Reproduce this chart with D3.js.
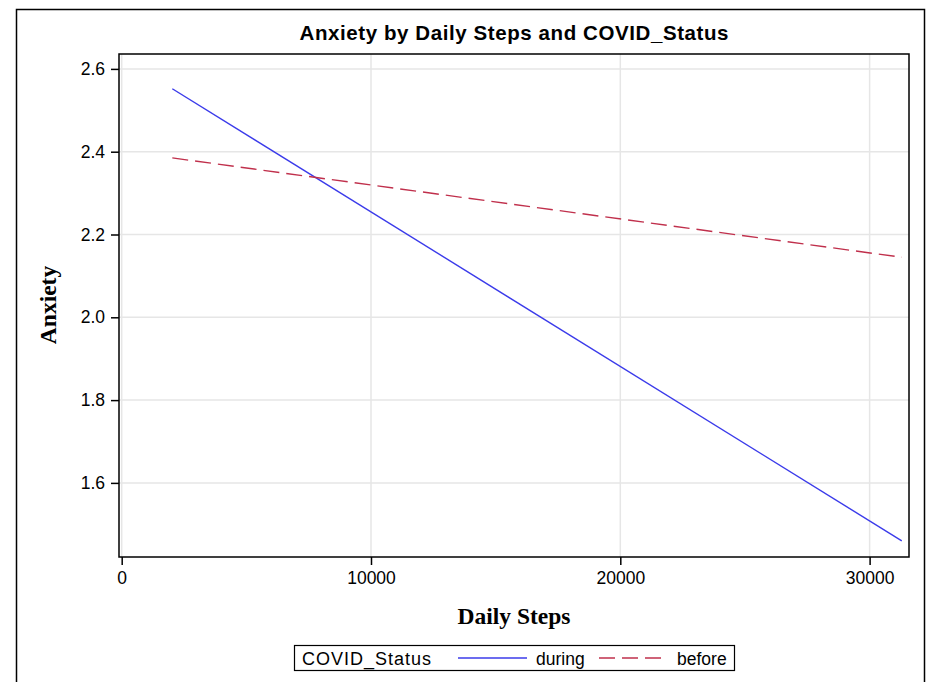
<!DOCTYPE html>
<html>
<head>
<meta charset="utf-8">
<script src="https://cdn.jsdelivr.net/npm/d3@7"></script>
<style>
  body { margin: 0; background: #fff; }
  svg { display: block; }
</style>
</head>
<body>
<svg id="chart" width="930" height="682"></svg>
<script>
// data (fitted lines, end points)
const steps_during = [2030, 31290];
const anxiety_during = [2.552, 1.460];
const steps_before = [2030, 31290];
const anxiety_before = [2.385, 2.145];

const x_ticks = [0, 10000, 20000, 30000];
const y_ticks = [1.6, 1.8, 2.0, 2.2, 2.4, 2.6];
const x_domain = [-108, 31580];
const y_domain = [1.421, 2.636];

const series_names = ["during", "before"];

const svg = d3.select("#chart");
const width = 930;
const height = 682;
const margin = { top: 54, right: 21, bottom: 125, left: 119 };

const sans = "'Liberation Sans', Arial, sans-serif";
const serif = "'Liberation Serif', 'Times New Roman', serif";

// outer frame
svg.append("rect")
    .attr("x", 16.5)
    .attr("y", 9.5)
    .attr("width", 908)
    .attr("height", 700)
    .attr("fill", "none")
    .attr("stroke", "#000")
    .attr("stroke-width", 1.5);

// scales
const x = d3.scaleLinear()
    .domain(x_domain)
    .range([margin.left, width - margin.right]);

const y = d3.scaleLinear()
    .domain(y_domain)
    .range([height - margin.bottom, margin.top]);

// grid lines
svg.append("g")
    .selectAll("line")
    .data(x_ticks)
    .join("line")
    .attr("x1", d => x(d))
    .attr("x2", d => x(d))
    .attr("y1", margin.top)
    .attr("y2", height - margin.bottom)
    .attr("stroke", "#e6e6e6")
    .attr("stroke-width", 1.5);

svg.append("g")
    .selectAll("line")
    .data(y_ticks)
    .join("line")
    .attr("x1", margin.left)
    .attr("x2", width - margin.right)
    .attr("y1", d => y(d))
    .attr("y2", d => y(d))
    .attr("stroke", "#e6e6e6")
    .attr("stroke-width", 1.5);

// x axis
const xAxis = svg.append("g")
    .attr("transform", `translate(0,${height - margin.bottom})`)
    .call(d3.axisBottom(x).tickValues(x_ticks).tickFormat(d3.format("d")).tickSize(8).tickPadding(7));
xAxis.select(".domain").remove();
xAxis.selectAll("line").attr("stroke", "#000").attr("stroke-width", 1.5);
xAxis.selectAll("text")
    .style("font-family", sans)
    .style("font-size", "17.5px")
    .attr("fill", "#000");

// y axis
const yAxis = svg.append("g")
    .attr("transform", `translate(${margin.left},0)`)
    .call(d3.axisLeft(y).tickValues(y_ticks).tickFormat(d3.format(".1f")).tickSize(8).tickPadding(6));
yAxis.select(".domain").remove();
yAxis.selectAll("line").attr("stroke", "#000").attr("stroke-width", 1.5);
yAxis.selectAll("text")
    .style("font-family", sans)
    .style("font-size", "17.5px")
    .attr("fill", "#000");

// lines
const line = d3.line()
    .x(d => x(d[0]))
    .y(d => y(d[1]));

svg.append("path")
    .datum(d3.zip(steps_during, anxiety_during))
    .attr("d", line)
    .attr("fill", "none")
    .attr("stroke", "#3b3bea")
    .attr("stroke-width", 1.4);

svg.append("path")
    .datum(d3.zip(steps_before, anxiety_before))
    .attr("d", line)
    .attr("fill", "none")
    .attr("stroke", "#c0304c")
    .attr("stroke-width", 1.4)
    .attr("stroke-dasharray", "16,7");

// plot frame
svg.append("rect")
    .attr("x", margin.left)
    .attr("y", margin.top)
    .attr("width", width - margin.left - margin.right)
    .attr("height", height - margin.top - margin.bottom)
    .attr("fill", "none")
    .attr("stroke", "#000")
    .attr("stroke-width", 1.5);

// title
svg.append("text")
    .attr("x", (margin.left + width - margin.right) / 2)
    .attr("y", 40)
    .attr("text-anchor", "middle")
    .attr("textLength", 429)
    .text("Anxiety by Daily Steps and COVID_Status")
    .style("font-family", sans)
    .style("font-size", "20.5px")
    .style("font-weight", "bold");

// axis labels
svg.append("text")
    .attr("text-anchor", "middle")
    .attr("transform", "rotate(-90)")
    .attr("x", -305)
    .attr("y", 56)
    .text("Anxiety")
    .style("font-family", serif)
    .style("font-size", "23.5px")
    .style("font-weight", "bold");

svg.append("text")
    .attr("text-anchor", "middle")
    .attr("x", (margin.left + width - margin.right) / 2)
    .attr("y", 624)
    .text("Daily Steps")
    .style("font-family", serif)
    .style("font-size", "23.5px")
    .style("font-weight", "bold");

// legend
const legend = svg.append("g");
legend.append("rect")
    .attr("x", 294.5)
    .attr("y", 645.5)
    .attr("width", 440)
    .attr("height", 25)
    .attr("fill", "#fff")
    .attr("stroke", "#000")
    .attr("stroke-width", 1.2);

legend.append("text")
    .attr("x", 302)
    .attr("y", 665)
    .attr("textLength", 129)
    .text("COVID_Status")
    .style("font-family", sans)
    .style("font-size", "18px");

legend.append("line")
    .attr("x1", 458).attr("x2", 527)
    .attr("y1", 658).attr("y2", 658)
    .attr("stroke", "#3b3bea")
    .attr("stroke-width", 1.4);

legend.append("text")
    .attr("x", 536)
    .attr("y", 665)
    .text(series_names[0])
    .style("font-family", sans)
    .style("font-size", "17.5px");

legend.append("line")
    .attr("x1", 599).attr("x2", 662)
    .attr("y1", 658).attr("y2", 658)
    .attr("stroke", "#c0304c")
    .attr("stroke-width", 1.4)
    .attr("stroke-dasharray", "16,7");

legend.append("text")
    .attr("x", 677)
    .attr("y", 665)
    .text(series_names[1])
    .style("font-family", sans)
    .style("font-size", "17.5px");
</script>
</body>
</html>
